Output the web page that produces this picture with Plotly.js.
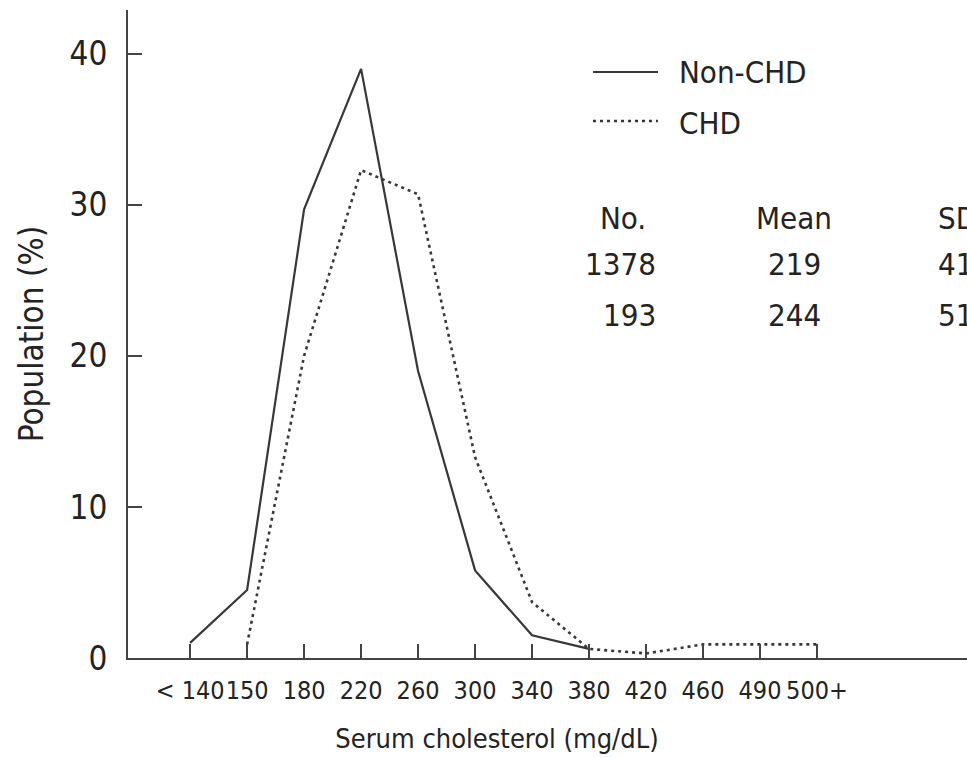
<!DOCTYPE html>
<html>
<head>
<meta charset="utf-8">
<script src="https://cdn.plot.ly/plotly-3.0.1.min.js"></script>
<style>html,body{margin:0;padding:0;background:#fff;}#chart{width:967px;height:758px;}</style>
</head>
<body>
<div id="chart"></div>
<script>
// Data
var categories = ["< 140", "150", "180", "220", "260", "300", "340", "380", "420", "460", "490", "500+"];
var nonCHD = [1.0, 4.5, 29.7, 39.0, 19.0, 5.8, 1.5, 0.6, null, null, null, null];
var chd = [null, 0.9, 20.0, 32.3, 30.7, 13.3, 3.7, 0.6, 0.3, 0.9, 0.9, 0.9];
var seriesNames = ["Non-CHD", "CHD"];
var tableHeader = ["No.", "Mean", "SD"];
var tableNonCHD = ["1378", "219", "41."];
var tableCHD = ["193", "244", "51."];

var FONT = "'DejaVu Sans Condensed', 'DejaVu Sans', sans-serif";
var INK = "#232323";
var LINE = "#383838";

var traces = [
  {x: categories, y: nonCHD, type: "scatter", mode: "lines", name: seriesNames[0],
   line: {color: LINE, width: 2.2, dash: "solid"}, connectgaps: false, hoverinfo: "skip"},
  {x: categories, y: chd, type: "scatter", mode: "lines", name: seriesNames[1],
   line: {color: LINE, width: 2.6, dash: "3px,4px"}, connectgaps: false, hoverinfo: "skip"}
];

// plot area: x from 128 to 866 px, y from 10 to 658 px
function px2x(p) { return (p - 128) / 738; }
function px2y(p) { return (658 - p) / 648; }

var annotations = [];
function txt(t, xp, yp, anchor, size) {
  annotations.push({text: t, xref: "paper", yref: "paper", x: px2x(xp), y: px2y(yp),
    xanchor: anchor, yanchor: "middle", showarrow: false,
    font: {family: FONT, size: size, color: INK}});
}
// legend labels
txt(seriesNames[0], 677, 72, "left", 31);
txt(seriesNames[1], 677, 123, "left", 31);
// statistics table
txt(tableHeader[0], 598, 218, "left", 31);
txt(tableHeader[1], 794, 218, "center", 31);
txt(tableHeader[2], 936, 218, "left", 31);
txt(tableNonCHD[0], 658, 264, "right", 31);
txt(tableNonCHD[1], 794, 264, "center", 31);
txt(tableNonCHD[2], 936, 264, "left", 31);
txt(tableCHD[0], 658, 315, "right", 31);
txt(tableCHD[1], 794, 315, "center", 31);
txt(tableCHD[2], 936, 315, "left", 31);

var shapes = [
  // legend samples
  {type: "line", xref: "paper", yref: "paper", x0: px2x(593), x1: px2x(658), y0: px2y(72), y1: px2y(72),
   line: {color: LINE, width: 2.2}},
  {type: "line", xref: "paper", yref: "paper", x0: px2x(593), x1: px2x(658), y0: px2y(121), y1: px2y(121),
   line: {color: LINE, width: 2.6, dash: "3px,4px"}},
  // x-axis line continues to the right edge
  {type: "line", xref: "paper", yref: "paper", x0: 0.98, x1: px2x(972), y0: px2y(659), y1: px2y(659),
   line: {color: "#444", width: 2}, layer: "above"}
];

var layout = {
  width: 967, height: 758,
  margin: {l: 128, r: 101, t: 10, b: 100},
  paper_bgcolor: "#ffffff", plot_bgcolor: "#ffffff",
  showlegend: false,
  font: {family: FONT, color: INK},
  xaxis: {
    type: "category", categoryorder: "array", categoryarray: categories,
    range: [-1.09, 11.86], showgrid: false, zeroline: false,
    showline: true, linecolor: "#444", linewidth: 2,
    ticks: "inside", ticklen: 14, tickwidth: 2, tickcolor: "#444",
    tickangle: 0,
    tickfont: {family: FONT, size: 25, color: INK},
    ticklabelstandoff: 9,
    title: {text: "Serum cholesterol (mg/dL)", font: {family: FONT, size: 27, color: INK}, standoff: 25},
    automargin: false, fixedrange: true
  },
  yaxis: {
    range: [0, 42.9], tickvals: [0, 10, 20, 30, 40], showgrid: false, zeroline: false,
    showline: true, linecolor: "#444", linewidth: 2,
    ticks: "inside", ticklen: 14, tickwidth: 2, tickcolor: "#444",
    tickfont: {family: FONT, size: 33, color: INK},
    ticklabelstandoff: 12,
    title: {text: "Population (%)", font: {family: FONT, size: 33, color: INK}, standoff: 16},
    automargin: false, fixedrange: true
  },
  annotations: annotations,
  shapes: shapes
};

Plotly.newPlot("chart", traces, layout, {displayModeBar: false, staticPlot: true});
</script>
</body>
</html>
